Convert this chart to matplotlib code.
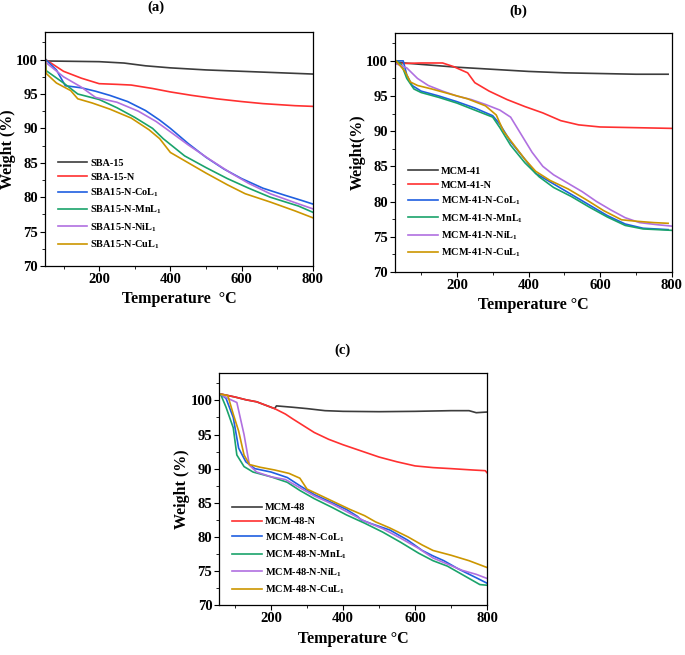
import matplotlib
matplotlib.use("Agg")
import matplotlib.pyplot as plt
from matplotlib.ticker import MultipleLocator

plt.rcParams['font.family'] = ['Liberation Serif', 'DejaVu Serif']
plt.rcParams['font.weight'] = 'bold'
plt.rcParams['mathtext.fontset'] = 'custom'
plt.rcParams['mathtext.rm'] = 'Liberation Serif:bold'
plt.rcParams['mathtext.bf'] = 'Liberation Serif:bold'

colors = ['#3c3c3c', '#ff3030', '#1f5fe0', '#1aa36b', '#b070e0', '#cc9600']

# ---- (a) SBA-15 series
a_labels = ['SBA-15', 'SBA-15-N', r'SBA15-N-CoL$_1$', r'SBA15-N-MnL$_1$',
            r'SBA15-N-NiL$_1$', r'SBA15-N-CuL$_1$']
a_x = [
    [50, 200, 270, 330, 400, 500, 600, 700, 800],
    [50, 100, 150, 200, 250, 290, 350, 400, 460, 530, 600, 660, 750, 800],
    [50, 80, 105, 150, 190, 230, 280, 330, 370, 400, 450, 500, 550, 600, 660, 720, 770, 800],
    [49, 51, 100, 140, 200, 250, 300, 350, 380, 440, 500, 560, 620, 680, 760, 800],
    [50, 100, 150, 190, 250, 310, 360, 400, 450, 510, 570, 620, 680, 750, 800],
    [49, 51, 80, 120, 140, 180, 230, 290, 340, 370, 400, 450, 500, 560, 610, 680, 750, 800],
]
a_y = [
    [99.8, 99.7, 99.5, 99.1, 98.8, 98.5, 98.3, 98.1, 97.9],
    [100.0, 98.3, 97.3, 96.5, 96.4, 96.3, 95.8, 95.3, 94.8, 94.3, 93.9, 93.6, 93.3, 93.2],
    [100.0, 98.5, 96.2, 95.9, 95.4, 94.8, 93.9, 92.6, 91.2, 90.0, 87.8, 85.8, 84.1, 82.7, 81.3, 80.3, 79.5, 79.0],
    [100.0, 98.4, 96.6, 95.0, 94.2, 93.0, 91.6, 90.0, 88.5, 86.0, 84.3, 82.7, 81.3, 80.0, 78.7, 77.8],
    [99.6, 97.5, 96.0, 94.5, 93.8, 92.5, 91.0, 89.5, 87.6, 85.5, 83.5, 82.0, 80.5, 79.2, 78.3],
    [100.0, 98.0, 96.6, 95.5, 94.3, 93.7, 92.8, 91.5, 89.8, 88.5, 86.5, 85.0, 83.5, 81.8, 80.5, 79.3, 78.0, 77.0],
]

# ---- (b) MCM-41 series
b_labels = ['MCM-41', 'MCM-41-N', r'MCM-41-N-CoL$_1$', r'MCM-41-N-MnL$_1$',
            r'MCM-41-N-NiL$_1$', r'MCM-41-N-CuL$_1$']
b_x = [
    [30, 100, 200, 300, 400, 500, 600, 700, 790],
    [30, 100, 160, 190, 230, 250, 290, 340, 390, 440, 490, 540, 600, 700, 800],
    [30, 50, 60, 75, 100, 150, 200, 250, 300, 320, 350, 390, 420, 470, 520, 570, 620, 670, 720, 790],
    [30, 45, 60, 80, 100, 150, 200, 250, 300, 320, 350, 390, 430, 470, 520, 570, 620, 670, 720, 800],
    [30, 60, 90, 120, 160, 200, 240, 280, 320, 350, 380, 410, 440, 470, 510, 550, 590, 630, 670, 710, 760, 800],
    [30, 55, 70, 90, 130, 180, 230, 280, 310, 330, 360, 390, 420, 460, 510, 560, 610, 660, 700, 750, 790],
]
b_y = [
    [99.8, 99.5, 99.1, 98.8, 98.5, 98.3, 98.2, 98.1, 98.1],
    [99.6, 99.7, 99.7, 99.2, 98.3, 96.9, 95.7, 94.5, 93.5, 92.6, 91.5, 90.9, 90.6, 90.5, 90.4],
    [100.0, 100.0, 98.0, 96.5, 95.7, 95.0, 94.2, 93.3, 92.2, 91.0, 88.5, 86.0, 84.0, 82.5, 81.0, 79.5, 78.0, 76.8, 76.2, 76.0],
    [100.0, 99.5, 97.5, 96.0, 95.5, 94.8, 94.0, 93.0, 92.0, 90.5, 88.0, 85.5, 83.5, 82.0, 80.7, 79.2, 77.8, 76.6, 76.1, 75.9],
    [99.6, 99.0, 97.5, 96.5, 95.7, 95.0, 94.5, 93.8, 93.0, 92.0, 89.5, 87.0, 85.0, 83.8, 82.6, 81.4, 80.0, 78.8, 77.7, 77.0, 76.7, 76.5],
    [100.0, 98.5, 97.0, 96.5, 96.0, 95.3, 94.6, 93.6, 92.3, 90.0, 88.0, 86.0, 84.3, 83.0, 81.8, 80.3, 78.7, 77.4, 77.2, 77.0, 76.9],
]

# ---- (c) MCM-48 series
c_labels = ['MCM-48', 'MCM-48-N', r'MCM-48-N-CoL$_1$', r'MCM-48-N-MnL$_1$',
            r'MCM-48-N-NiL$_1$', r'MCM-48-N-CuL$_1$']
c_x = [
    [55, 100, 130, 160, 190, 210, 215, 260, 300, 350, 400, 500, 600, 700, 750, 770, 800],
    [55, 100, 130, 160, 190, 210, 240, 260, 290, 320, 360, 400, 450, 500, 550, 600, 650, 700, 760, 795, 800],
    [60, 75, 95, 110, 130, 155, 200, 245, 280, 320, 370, 410, 440, 450, 480, 530, 580, 620, 650, 680, 720, 770, 800],
    [60, 75, 95, 105, 125, 150, 200, 245, 280, 320, 370, 410, 460, 510, 560, 610, 650, 690, 730, 780, 800],
    [60, 80, 105, 125, 140, 160, 200, 240, 280, 320, 370, 410, 460, 510, 560, 610, 650, 690, 730, 770, 800],
    [60, 80, 95, 110, 125, 140, 170, 210, 250, 280, 300, 340, 380, 420, 460, 490, 530, 580, 620, 650, 700, 750, 800],
]
c_y = [
    [101.0, 100.5, 100.1, 99.8, 99.2, 98.8, 99.2, 99.0, 98.8, 98.5, 98.4, 98.35, 98.4, 98.5, 98.5, 98.2, 98.3],
    [101.0, 100.5, 100.1, 99.8, 99.2, 98.8, 98.0, 97.3, 96.3, 95.3, 94.3, 93.5, 92.6, 91.7, 91.0, 90.4, 90.15, 90.0, 89.8, 89.7, 89.4],
    [100.9, 100.3, 97.5, 93.0, 91.0, 90.0, 89.5, 88.7, 87.5, 86.2, 85.0, 84.0, 83.0, 82.5, 81.9, 81.0, 79.5, 78.0, 77.2, 76.5, 75.3, 74.0, 73.2],
    [100.9, 99.0, 96.0, 92.0, 90.3, 89.5, 88.8, 88.0, 86.8, 85.6, 84.3, 83.2, 82.0, 80.7, 79.2, 77.6, 76.5, 75.7, 74.5, 73.0, 72.9],
    [100.9, 100.3, 99.7, 95.0, 90.5, 89.5, 88.8, 88.4, 87.2, 86.0, 84.8, 83.7, 82.3, 81.2, 79.8, 78.3, 76.9, 76.0, 75.1, 74.5, 73.9],
    [100.9, 100.7, 98.0, 95.5, 92.0, 90.6, 90.2, 89.8, 89.3, 88.6, 87.0, 86.0, 85.0, 84.0, 83.1, 82.2, 81.3, 80.0, 78.8, 78.0, 77.3, 76.5, 75.5],
]

fig = plt.figure(figsize=(6.85, 6.55), dpi=100)


def panel(rect, xs, ys, labels, xmin, ylabel, xlabel, title, tx, ty, leg_anchor):
    ax = fig.add_axes(rect)
    for x, y, lab, c in zip(xs, ys, labels, colors):
        ax.plot(x, y, color=c, lw=1.2, label=lab)
    ax.set_xlim(xmin, 800)
    ax.set_ylim(70, 104)
    ax.xaxis.set_major_locator(MultipleLocator(200))
    ax.xaxis.set_minor_locator(MultipleLocator(100))
    ax.set_yticks([70, 75, 80, 85, 90, 95, 100])
    ax.yaxis.set_minor_locator(MultipleLocator(2.5))
    ax.tick_params(which='both', direction='out', top=False, right=False,
                   labelsize=10.5, pad=1.5)
    ax.tick_params(which='major', length=3.5, width=0.8)
    ax.tick_params(which='minor', length=2, width=0.6)
    for lbl in ax.get_xticklabels() + ax.get_yticklabels():
        lbl.set_fontweight('bold')
    ax.set_ylabel(ylabel, fontsize=11.5, fontweight='bold', labelpad=0)
    ax.set_xlabel(xlabel, fontsize=11.5, fontweight='bold', labelpad=4)
    for s in ax.spines.values():
        s.set_linewidth(0.9)
    ax.legend(loc='upper left', bbox_to_anchor=leg_anchor, frameon=False,
              handlelength=2.9, handletextpad=0.3,
              labelspacing=0.45, borderpad=0.2,
              prop={'weight': 'bold', 'size': 7.4})
    fig.text(tx, ty, title, fontsize=10.5, fontweight='bold', ha='center')
    return ax


panel([0.0657, 0.594, 0.391, 0.357], a_x, a_y, a_labels, 48,
      'Weight (%)', 'Temperature  °C', '(a)', 0.228, 0.984, (0.02, 0.49))
panel([0.5766, 0.585, 0.404, 0.365], b_x, b_y, b_labels, 27,
      'Weight(%)', 'Temperature °C', '(b)', 0.757, 0.977, (0.02, 0.47))
panel([0.320, 0.0763, 0.391, 0.354], c_x, c_y, c_labels, 56,
      'Weight (%)', 'Temperature °C', '(c)', 0.50, 0.460, (0.02, 0.47))

fig.savefig('out.png', dpi=100)
